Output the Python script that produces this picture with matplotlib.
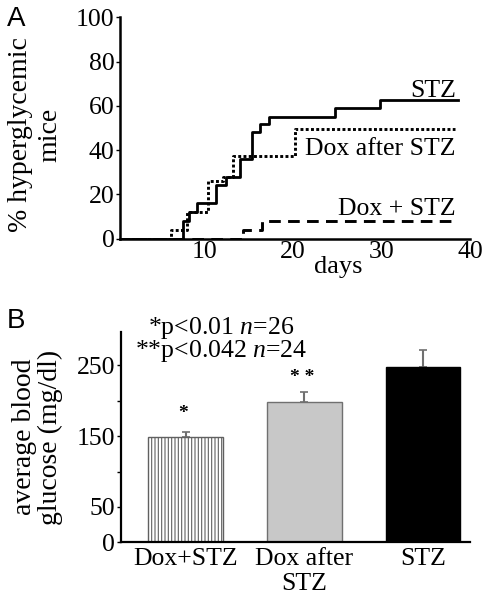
import numpy as np
import matplotlib
matplotlib.use("Agg")
import matplotlib.pyplot as plt

plt.rcParams["font.family"] = ["Liberation Serif", "DejaVu Serif"]
plt.rcParams["mathtext.fontset"] = "custom"
plt.rcParams["mathtext.rm"] = "Liberation Serif"
plt.rcParams["mathtext.it"] = "Liberation Serif:italic"
plt.rcParams["hatch.linewidth"] = 0.8

# panel A: cumulative % hyperglycemic mice
stz_days = [0, 7.5, 8.2, 9.1, 11.3, 12.4, 14.0, 15.3, 16.2, 17.3, 24.7, 29.8, 38.7]
stz_pct = [0, 8, 12, 16, 24, 28, 36, 48, 52, 55, 59, 62.5, 62.5]
dox_after_days = [0, 6.2, 8.0, 10.4, 12.1, 13.2, 20.2, 38.3]
dox_after_pct = [0, 4, 12, 26, 28, 37.5, 49.5, 49.5]
dox_plus_days = [0, 14.3, 16.5, 38.1]
dox_plus_pct = [0, 4, 8, 8]

# panel B: average blood glucose
groups = ["Dox+STZ", "Dox after\nSTZ", "STZ"]
glucose = [148, 198, 248]
glucose_err = [8, 14, 24]
stars = ["*", "* *", ""]
star_y = [182, 233, 0]

fs = 18.5
fig = plt.figure(figsize=(4.84, 5.98), dpi=100)

# ---- A ----
ax = fig.add_axes([0.248, 0.601, 0.723, 0.370])
ax.plot(stz_days, stz_pct, drawstyle="steps-post", color="k", lw=2.0)
ax.plot(dox_after_days, dox_after_pct, drawstyle="steps-post", color="k",
        lw=2.1, linestyle=(0, (1, 0.8)))
ax.plot(dox_plus_days, dox_plus_pct, drawstyle="steps-post", color="k",
        lw=2.1, linestyle=(0, (4, 2.5)))
ax.set_xlim(0.4, 40)
ax.set_ylim(0, 100)
ax.set_xticks([10, 20, 30, 40])
ax.set_yticks([0, 20, 40, 60, 80, 100])
ax.tick_params(axis="x", length=0, labelsize=fs, pad=2)
ax.tick_params(axis="y", length=3, width=1, labelsize=fs, pad=1)
for s in ["top", "right"]:
    ax.spines[s].set_visible(False)
for s in ["left", "bottom"]:
    ax.spines[s].set_linewidth(1.8)
ax.set_ylabel("% hyperglycemic\nmice", fontsize=20, linespacing=1.2)
ax.yaxis.set_label_coords(-0.165, 0.47)
ax.text(0.623, -0.128, "days", transform=ax.transAxes, ha="center",
        va="center", fontsize=19)
ax.text(38.4, 64, "STZ", ha="right", va="baseline", fontsize=fs)
ax.text(38.4, 37.8, "Dox after STZ", ha="right", va="baseline", fontsize=fs)
ax.text(38.4, 10.7, "Dox + STZ", ha="right", va="baseline", fontsize=fs)
fig.text(0.014, 0.99, "A", family="Liberation Sans", fontsize=20,
         ha="left", va="top")

# ---- B ----
bx = fig.add_axes([0.249, 0.093, 0.722, 0.352])
x = np.arange(len(groups))
face = ["white", "#c8c8c8", "black"]
edge = ["#606060", "#707070", "black"]
hatch = ["|||||", None, None]
for i in range(len(groups)):
    bx.bar(x[i], glucose[i], width=0.63, color=face[i], edgecolor=edge[i],
           hatch=hatch[i], lw=1.0, zorder=2)
bx.errorbar(x, glucose, yerr=[np.zeros(3), glucose_err], fmt="none",
            ecolor="#707070", elinewidth=1.5, capsize=3, capthick=1.2,
            zorder=1)
for i in range(len(groups)):
    if stars[i]:
        bx.text(x[i] - 0.02, star_y[i], stars[i], ha="center", va="center",
                fontsize=14, fontweight="bold")
bx.set_xlim(-0.551, 2.397)
bx.set_ylim(0, 297)
bx.set_yticks([0, 50, 100, 150, 200, 250])
bx.set_yticklabels(["0", "50", "", "150", "", "250"])
bx.set_xticks(x)
bx.set_xticklabels(groups, linespacing=1.2)
bx.tick_params(axis="x", length=0, labelsize=fs, pad=4)
bx.tick_params(axis="y", length=3, width=1, labelsize=fs, pad=1)
for s in ["top", "right"]:
    bx.spines[s].set_visible(False)
for s in ["left", "bottom"]:
    bx.spines[s].set_linewidth(1.6)
bx.set_ylabel("average blood\nglucose (mg/dl)", fontsize=20, linespacing=1.05)
bx.yaxis.set_label_coords(-0.165, 0.5)
bx.text(0.295, 262, "*p<0.01 $\\mathit{n}$=26\n**p<0.042 $\\mathit{n}$=24",
        ha="center", va="baseline", multialignment="center", fontsize=fs,
        linespacing=0.85)
fig.text(0.014, 0.485, "B", family="Liberation Sans", fontsize=20,
         ha="left", va="top")

fig.savefig("out.png", dpi=100)
